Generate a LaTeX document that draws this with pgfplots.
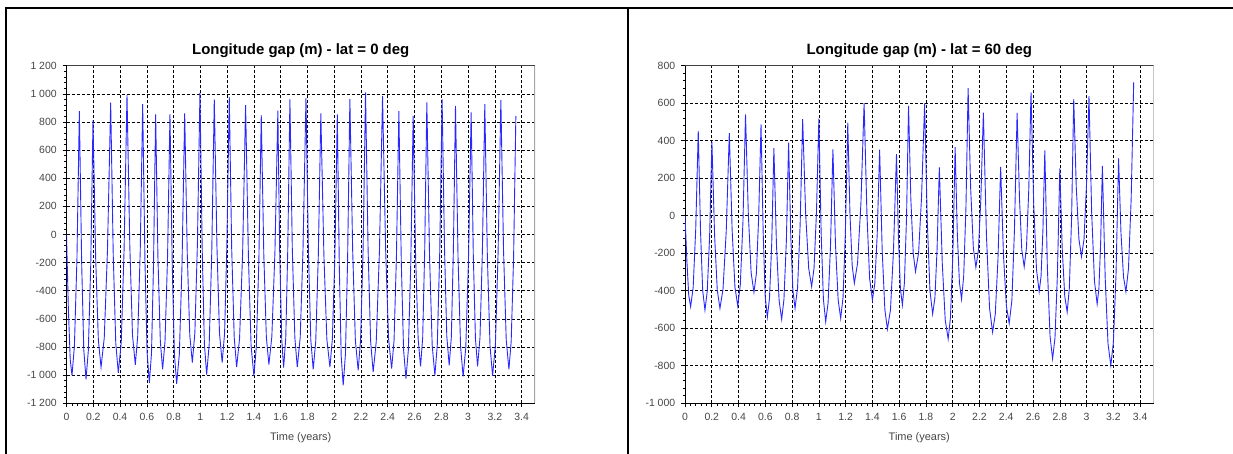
\documentclass[border=0pt]{standalone}
\usepackage{fontspec}
\setmainfont{Liberation Sans}
\usepackage{pgfplots}
\pgfplotsset{compat=1.18}
\definecolor{curve}{RGB}{40,40,255}
\definecolor{lab}{RGB}{70,70,70}
\pgfplotsset{myax/.style={
  anchor=south west, scale only axis, width=468.5bp, height=337.6bp,
  xmin=0, xmax=3.5,
  xtick={0,0.2,0.4,0.6,0.8,1,1.2,1.4,1.6,1.8,2,2.2,2.4,2.6,2.8,3,3.2,3.4},
  minor x tick num=4, minor y tick num=4,
  axis x line*=bottom, axis y line*=left,
  axis line style={black, line width=0.8bp},
  tick align=outside,
  major tick length=4bp, minor tick length=2.5bp,
  tick style={black, line width=0.6bp},
  grid=major,
  major grid style={black, line width=0.6bp, dash pattern=on 3bp off 2bp},
  ticklabel style={font=\fontsize{10.5}{12}\selectfont, text=lab},
  xticklabel style={yshift=-2.5bp},
  yticklabel style={xshift=-2.3bp},
  /pgf/number format/1000 sep={\ },
  /pgf/number format/assume math mode=true,
  title style={font=\bfseries\fontsize{15}{17}\selectfont, at={(0.5,1)}, anchor=center, yshift=8.6bp},
  xlabel style={font=\fontsize{11}{13}\selectfont, text=lab, at={(axis description cs:0.5,0)}, anchor=center, yshift=-34bp},
  xlabel={Time (years)},
}}
\begin{document}
\begin{tikzpicture}
\useasboundingbox (0,0) rectangle (1233bp,454bp);
\draw[line width=2.5bp] (6bp,-5bp) -- (6bp,446bp) -- (1240bp,446bp);
\draw[line width=2.5bp] (628bp,-5bp) -- (628bp,446bp);

\begin{axis}[myax, at={(66.5bp,50.7bp)},
  ymin=-1200, ymax=1200, ytick={-1200,-1000,...,1200},
  title={Longitude gap (m) - lat = 0 deg}]
\addplot[curve, line width=0.9bp] coordinates {
(0,0) (0.014,-530) (0.028,-890) (0.041,-1002) (0.059,-795) (0.078,-175) (0.096,877)
(0.113,-190) (0.129,-819) (0.146,-1029) (0.163,-826) (0.181,-219) (0.198,813)
(0.218,-170) (0.238,-750) (0.258,-943) (0.282,-736) (0.306,-116) (0.330,937)
(0.349,-138) (0.368,-772) (0.387,-983) (0.409,-766) (0.430,-114) (0.452,991)
(0.473,-83) (0.493,-715) (0.514,-926) (0.532,-722) (0.551,-111) (0.569,927)
(0.586,-182) (0.602,-836) (0.619,-1054) (0.635,-844) (0.650,-214) (0.666,854)
(0.683,-161) (0.701,-760) (0.718,-959) (0.736,-759) (0.755,-160) (0.773,856)
(0.790,-218) (0.806,-850) (0.823,-1061) (0.843,-850) (0.863,-215) (0.883,861)
(0.902,-131) (0.921,-715) (0.940,-910) (0.959,-699) (0.978,-66) (0.997,1008)
(1.014,-114) (1.030,-776) (1.047,-996) (1.066,-781) (1.085,-135) (1.104,961)
(1.124,-87) (1.143,-704) (1.163,-910) (1.181,-702) (1.198,-79) (1.216,979)
(1.234,-97) (1.253,-732) (1.271,-943) (1.293,-738) (1.316,-123) (1.338,920)
(1.359,-157) (1.379,-792) (1.400,-1004) (1.418,-800) (1.437,-189) (1.455,849)
(1.474,-144) (1.493,-729) (1.512,-924) (1.534,-726) (1.557,-130) (1.579,880)
(1.593,-143) (1.608,-746) (1.622,-947) (1.638,-737) (1.653,-107) (1.669,961)
(1.687,-105) (1.706,-734) (1.724,-943) (1.746,-732) (1.767,-100) (1.789,972)
(1.807,-109) (1.825,-747) (1.843,-959) (1.862,-759) (1.881,-158) (1.900,861)
(1.923,-149) (1.945,-745) (1.968,-943) (1.986,-745) (2.005,-152) (2.023,854)
(2.038,-225) (2.052,-861) (2.067,-1073) (2.084,-849) (2.100,-177) (2.117,963)
(2.138,-117) (2.158,-754) (2.179,-966) (2.197,-749) (2.216,-97) (2.234,1010)
(2.253,-103) (2.272,-759) (2.291,-978) (2.314,-762) (2.338,-115) (2.361,984)
(2.384,-101) (2.406,-741) (2.429,-954) (2.447,-753) (2.465,-148) (2.483,877)
(2.501,-188) (2.518,-816) (2.536,-1025) (2.554,-819) (2.572,-203) (2.590,844)
(2.608,-154) (2.627,-742) (2.645,-938) (2.661,-732) (2.676,-112) (2.692,939)
(2.712,-148) (2.732,-788) (2.752,-1002) (2.770,-786) (2.788,-138) (2.806,961)
(2.824,-99) (2.841,-723) (2.859,-931) (2.875,-728) (2.890,-119) (2.906,915)
(2.925,-162) (2.944,-797) (2.963,-1009) (2.983,-803) (3.003,-183) (3.023,868)
(3.039,-143) (3.055,-739) (3.071,-938) (3.089,-733) (3.107,-117) (3.125,927)
(3.144,-154) (3.164,-792) (3.183,-1004) (3.204,-788) (3.224,-142) (3.245,956)
(3.265,-116) (3.285,-748) (3.305,-959) (3.322,-761) (3.340,-166) (3.357,844)
};
\draw[black!75, line width=0.8bp] (rel axis cs:0,1) -- (rel axis cs:1,1);
\draw[black!35, line width=1.5bp] (rel axis cs:1,1) -- (rel axis cs:1,0);
\end{axis}

\begin{axis}[myax, at={(685bp,50.7bp)},
  ymin=-1000, ymax=800, ytick={-1000,-800,...,800},
  title={Longitude gap (m) - lat = 60 deg}]
\addplot[curve, line width=0.9bp] coordinates {
(0,0) (0.014,-240) (0.028,-425) (0.042,-485) (0.061,-382) (0.080,-73) (0.099,452)
(0.116,-83) (0.132,-398) (0.149,-503) (0.166,-404) (0.184,-108) (0.201,395)
(0.221,-103) (0.241,-396) (0.261,-494) (0.284,-391) (0.308,-83) (0.331,441)
(0.352,-75) (0.373,-380) (0.394,-481) (0.413,-369) (0.433,-31) (0.452,541)
(0.473,10) (0.494,-304) (0.515,-408) (0.533,-310) (0.550,-14) (0.568,487)
(0.584,-89) (0.599,-428) (0.615,-541) (0.631,-442) (0.648,-144) (0.664,361)
(0.683,-150) (0.703,-452) (0.722,-552) (0.739,-448) (0.757,-138) (0.774,390)
(0.790,-105) (0.806,-397) (0.822,-494) (0.841,-383) (0.860,-50) (0.879,515)
(0.901,15) (0.924,-280) (0.946,-378) (0.964,-279) (0.982,16) (1.000,518)
(1.017,-88) (1.034,-446) (1.051,-565) (1.069,-464) (1.087,-161) (1.105,354)
(1.124,-151) (1.144,-448) (1.163,-547) (1.181,-432) (1.198,-88) (1.216,496)
(1.232,17) (1.249,-266) (1.265,-360) (1.289,-254) (1.314,63) (1.338,601)
(1.359,13) (1.379,-333) (1.400,-449) (1.418,-361) (1.436,-97) (1.454,352)
(1.473,-184) (1.493,-500) (1.512,-605) (1.535,-502) (1.557,-194) (1.580,328)
(1.595,-122) (1.609,-388) (1.624,-476) (1.639,-359) (1.655,-9) (1.670,586)
(1.687,91) (1.705,-201) (1.722,-298) (1.745,-199) (1.767,97) (1.790,599)
(1.810,-30) (1.830,-400) (1.850,-524) (1.867,-438) (1.883,-180) (1.900,258)
(1.922,-254) (1.944,-556) (1.966,-657) (1.983,-544) (2.001,-207) (2.018,366)
(2.034,-88) (2.050,-356) (2.066,-445) (2.082,-321) (2.099,50) (2.115,681)
(2.134,146) (2.154,-170) (2.173,-275) (2.192,-184) (2.210,88) (2.229,550)
(2.252,-106) (2.275,-492) (2.298,-621) (2.318,-524) (2.338,-233) (2.358,260)
(2.379,-207) (2.401,-482) (2.422,-574) (2.442,-451) (2.461,-80) (2.481,548)
(2.499,89) (2.516,-182) (2.534,-272) (2.551,-170) (2.568,137) (2.585,658)
(2.605,63) (2.626,-288) (2.646,-405) (2.660,-322) (2.674,-73) (2.688,349)
(2.707,-274) (2.727,-641) (2.746,-763) (2.764,-651) (2.782,-316) (2.800,253)
(2.818,-176) (2.837,-429) (2.855,-513) (2.871,-388) (2.888,-14) (2.904,622)
(2.923,152) (2.943,-126) (2.962,-218) (2.981,-124) (2.999,159) (3.018,638)
(3.038,17) (3.059,-349) (3.079,-471) (3.092,-390) (3.105,-147) (3.118,266)
(3.139,-330) (3.160,-681) (3.181,-798) (3.200,-677) (3.220,-312) (3.239,306)
(3.257,-92) (3.276,-327) (3.294,-405) (3.313,-282) (3.333,86) (3.352,711)
};
\draw[black!75, line width=0.8bp] (rel axis cs:0,1) -- (rel axis cs:1,1);
\draw[black!35, line width=1.5bp] (rel axis cs:1,1) -- (rel axis cs:1,0);
\end{axis}
\end{tikzpicture}
\end{document}
